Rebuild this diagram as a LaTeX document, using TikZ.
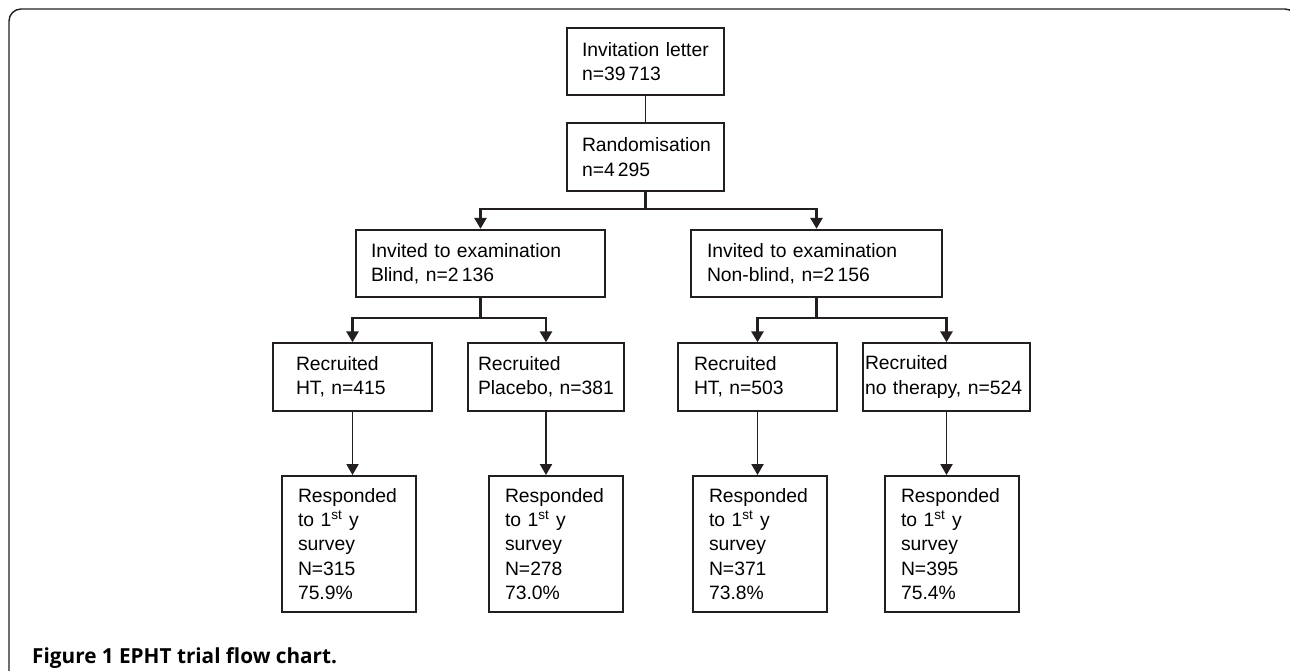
\documentclass[tikz,border=0pt]{standalone}
\usepackage{fontspec}
\setmainfont{Liberation Sans}
\newfontfamily\capfont{Open Sans}
\usetikzlibrary{arrows.meta}
\definecolor{lcol}{HTML}{231F20}

\begin{document}
\begin{tikzpicture}[>={Triangle[length=6.2pt, width=6.8pt]},
  box/.style={draw=lcol, line width=1.1pt, align=left, inner ysep=0pt, inner xsep=0.3cm,
    minimum height=1.35cm, font=\fontsize{11}{13.9}\selectfont},
  tall/.style={box, inner xsep=0.32cm, text width=2.04cm, minimum height=2.72cm},
  link/.style={draw=lcol, line width=1.1pt},
  fork/.style={draw=lcol, line width=1.6pt}]

\useasboundingbox (0,0) rectangle (25.8,13.42);
\clip (0,0) rectangle (25.8,13.42);

% frame
\draw[lcol, line width=0.8pt, rounded corners=0.24cm]
  (0.18,-1) -- (0.18,13.24) -- (25.94,13.24) -- (25.94,-1);

% top
\node[box, text width=2.54cm] (inv) at (12.91,12.19) {Invitation letter\\n=39\,713};
\node[box, text width=2.54cm] (rand) at (12.91,10.28) {Randomisation\\n=4\,295};

% arms
\node[box, text width=4.38cm] (blind) at (9.61,8.15) {Invited to examination\\Blind, n=2\,136};
\node[box, text width=4.38cm, inner xsep=0.32cm] (open) at (16.33,8.15) {Invited to examination\\Non-blind, n=2\,156};

% recruited
\node[box, text width=2.26cm, inner xsep=0.46cm] (recA) at (7.05,5.88) {Recruited\\HT, n=415};
\node[box, text width=2.72cm, inner xsep=0.2cm] (recB) at (10.92,5.88) {Recruited\\Placebo, n=381};
\node[box, text width=2.54cm, inner xsep=0.32cm] (recC) at (15.15,5.88) {Recruited\\HT, n=503};
\node[box, text width=3.26cm, inner xsep=0.04cm] (recD) at (18.93,5.88) {Recruited\\no therapy, n=524};

% responded
\node[tall] (resA) at (6.98,2.54) {Responded\\to 1\textsuperscript{st} y\\survey\\N=315\\75.9\%};
\node[tall] (resB) at (11.12,2.54) {Responded\\to 1\textsuperscript{st} y\\survey\\N=278\\73.0\%};
\node[tall] (resC) at (15.20,2.54) {Responded\\to 1\textsuperscript{st} y\\survey\\N=371\\73.8\%};
\node[tall] (resD) at (19.04,2.54) {Responded\\to 1\textsuperscript{st} y\\survey\\N=395\\75.4\%};

\coordinate (split) at (12.91,9.24);
\coordinate (splitA) at (9.61,7.06);
\coordinate (splitB) at (16.33,7.06);

\draw[link] (inv) -- (rand);
\draw[fork] (rand) -- (split);
\draw[fork, ->] (split) -| (blind);
\draw[fork, ->] (split) -| (open);
\draw[fork] (blind) -- (splitA);
\draw[fork, ->] (splitA) -| (recA);
\draw[fork, ->] (splitA) -| (recB);
\draw[fork] (open) -- (splitB);
\draw[fork, ->] (splitB) -| (recC);
\draw[fork, ->] (splitB) -| (recD);

\foreach \a in {A,B,C,D}
  \draw[link, ->] (rec\a) -- (rec\a |- res\a.north);

\node[anchor=base west, font=\capfont\bfseries\fontsize{11.8}{14}\selectfont] (cap)
  at (0.52,0.14) {Figure 1 EPHT trial flow chart.};

\end{tikzpicture}
\end{document}
